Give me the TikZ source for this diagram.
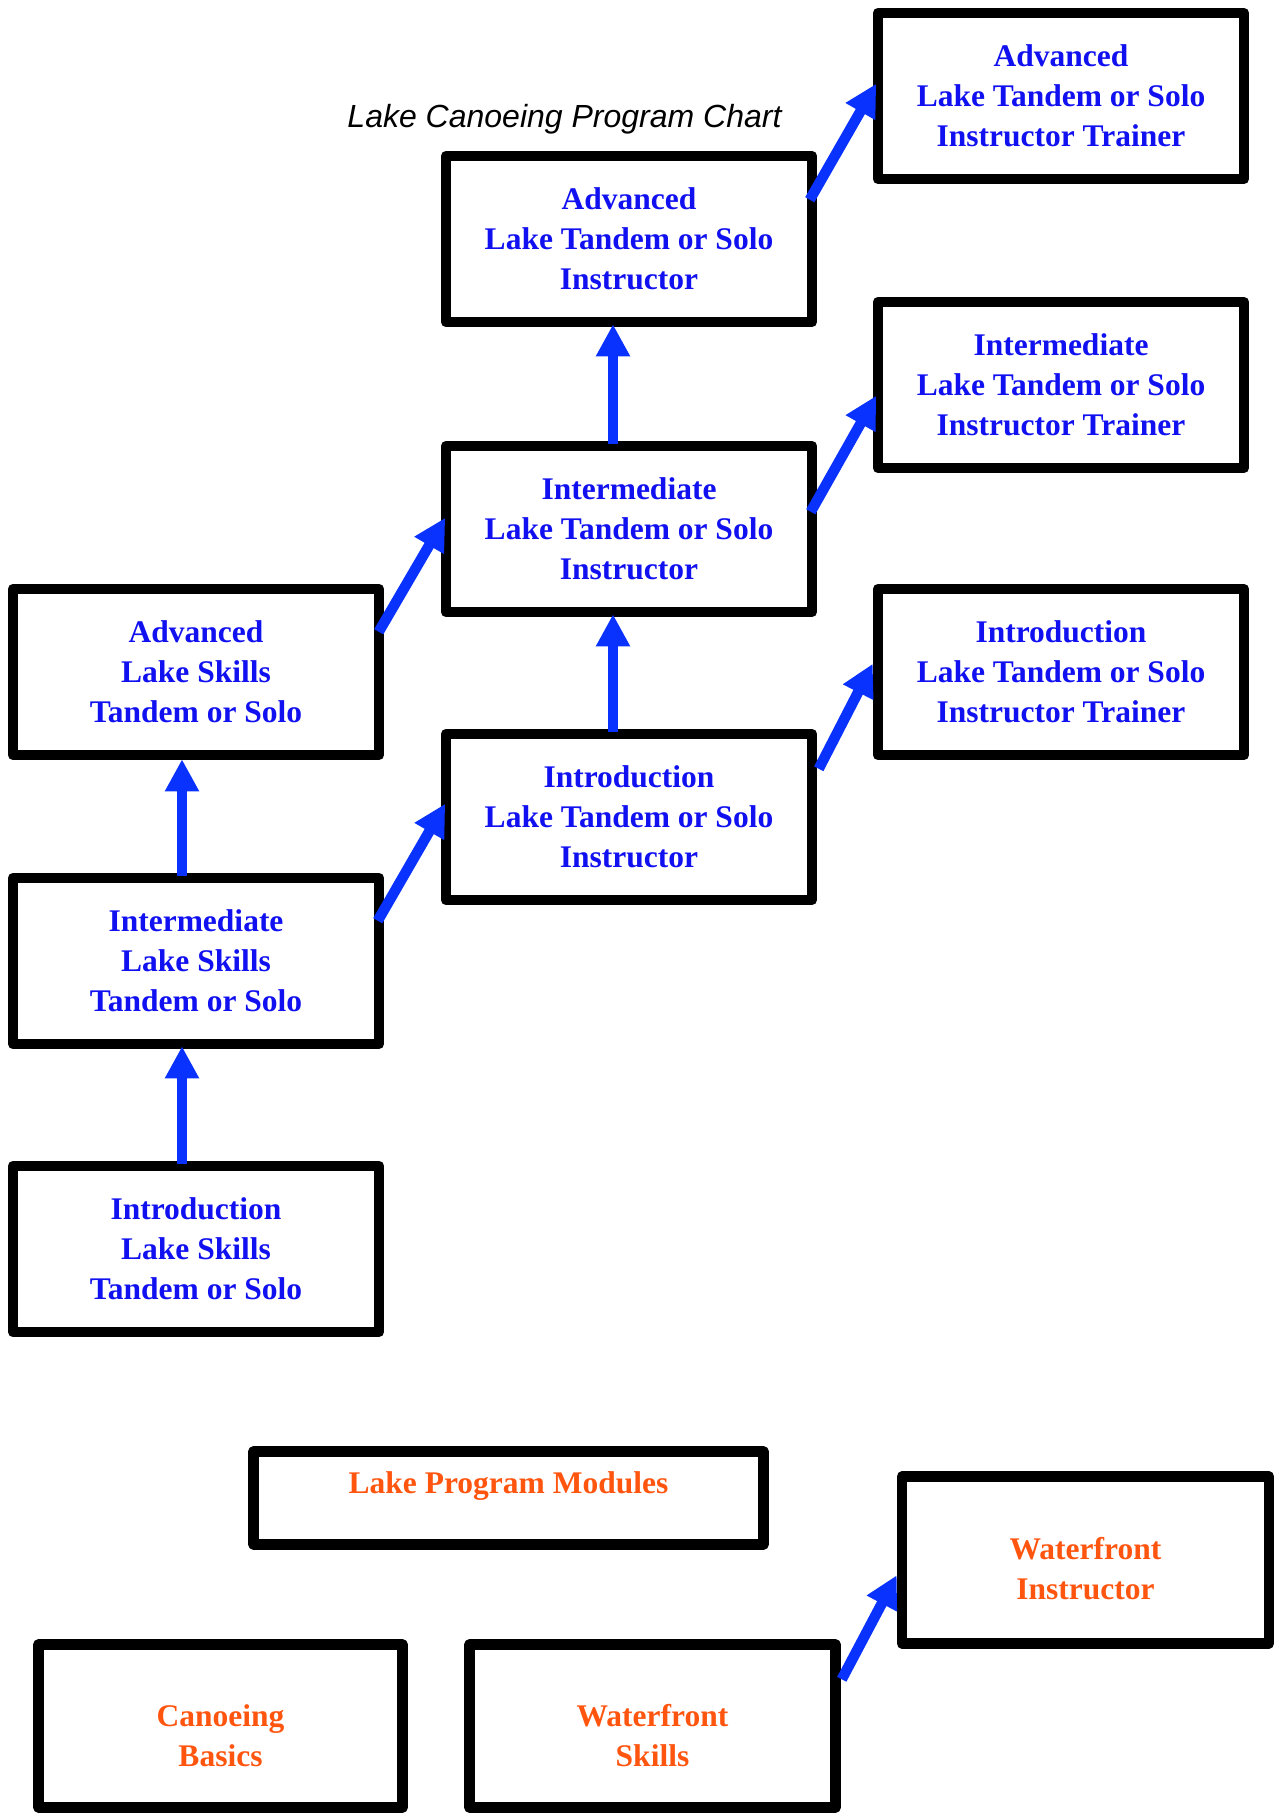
\documentclass[tikz,border=0pt]{standalone}
\usepackage{fontspec}
\setmainfont{Liberation Serif}
\newfontfamily\titlefont{Liberation Sans}
\usetikzlibrary{arrows.meta,calc}
\definecolor{txtblue}{RGB}{16,16,240}
\definecolor{arrblue}{RGB}{10,50,255}
\definecolor{txtorange}{RGB}{255,85,15}
\begin{document}
\begin{tikzpicture}[x=1pt,y=-1pt,
  box/.style={draw=black,line width=10.5pt,line join=round,minimum width=366pt,minimum height=166pt,inner sep=0pt,align=center,text=txtblue,font=\fontsize{31.5}{40}\selectfont\bfseries},
  obox/.style={draw=black,line width=10.5pt,line join=round,inner sep=0pt},
  otext/.style={text=txtorange,font=\fontsize{31.5}{40}\selectfont\bfseries,align=center,inner sep=0pt},
  arr/.style={draw=arrblue,line width=10.5pt,-{Triangle[width=32pt,length=32pt]}}]
\useasboundingbox (0,0) rectangle (1277,1814);

\node (title) at (564.5,119) {\titlefont\itshape\fontsize{32}{38}\selectfont Lake Canoeing Program Chart};

\node[box] (advT) at (1061,96) {Advanced\\Lake Tandem or Solo\\Instructor Trainer};
\node[box] (advI) at (629,239) {Advanced\\Lake Tandem or Solo\\Instructor};
\node[box] (intT) at (1061,385) {Intermediate\\Lake Tandem or Solo\\Instructor Trainer};
\node[box] (intI) at (629,529) {Intermediate\\Lake Tandem or Solo\\Instructor};
\node[box] (advS) at (196,672) {Advanced\\Lake Skills\\Tandem or Solo};
\node[box] (introT) at (1061,672) {Introduction\\Lake Tandem or Solo\\Instructor Trainer};
\node[box] (introI) at (629,817) {Introduction\\Lake Tandem or Solo\\Instructor};
\node[box] (intS) at (196,961) {Intermediate\\Lake Skills\\Tandem or Solo};
\node[box] (introS) at (196,1249) {Introduction\\Lake Skills\\Tandem or Solo};

\node[obox,minimum width=510pt,minimum height=93pt,label={[otext,yshift=12pt]center:Lake Program Modules}] (lpm) at (508.5,1498) {};
\node[obox,minimum width=367pt,minimum height=167pt,label={[otext,yshift=-8.5pt]center:Waterfront\\Instructor}] (wi) at (1085.5,1560) {};
\node[obox,minimum width=364pt,minimum height=163pt,label={[otext,yshift=-10pt]center:Canoeing\\Basics}] (cb) at (220.5,1726) {};
\node[obox,minimum width=366pt,minimum height=163pt,label={[otext,yshift=-10pt]center:Waterfront\\Skills}] (ws) at (652.5,1726) {};

% vertical arrows
\draw[arr] ($(introS.north)+(-14,3)$) -- ($(intS.south)+(-14,-3)$);
\draw[arr] ($(intS.north)+(-14,3)$) -- ($(advS.south)+(-14,-1)$);
\draw[arr] ($(introI.north)+(-16,3)$) -- ($(intI.south)+(-16,-3)$);
\draw[arr] ($(intI.north)+(-16,3)$) -- ($(advI.south)+(-16,-3)$);

% diagonal arrows
\draw[arr] ($(advI.north east)+(-7.5,49)$) -- ($(advT.north west)+(3.5,76)$);
\draw[arr] ($(intI.north east)+(-6.5,71)$) -- ($(intT.north west)+(3.5,99)$);
\draw[arr] ($(introI.north east)+(1.5,40)$) -- ($(introT.north west)+(0,80)$);
\draw[arr] ($(advS.north east)+(-5.5,48)$) -- ($(intI.north west)+(4.5,77)$);
\draw[arr] ($(intS.north east)+(-6.5,48)$) -- ($(introI.north west)+(4.5,75)$);
\draw[arr] ($(ws.north east)+(1,40)$) -- ($(wi.north west)+(0,104)$);
\end{tikzpicture}
\end{document}
